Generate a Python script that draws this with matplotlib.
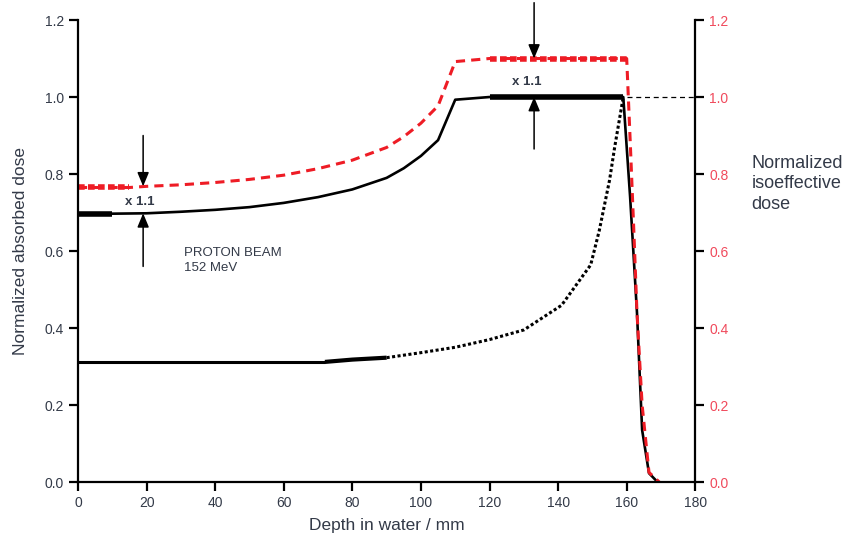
import matplotlib.pyplot as plt
import numpy as np

plt.rcParams['font.family'] = ['Liberation Sans', 'DejaVu Sans']

# spread-out Bragg peak, absorbed dose (black) and isoeffective dose (red)
sobp_depth = [0, 10, 20, 30, 40, 50, 60, 70, 80, 90, 95, 100, 105, 110,
              120, 130, 140, 150, 159, 161, 163, 164.5, 166.5, 169]
absorbed = [0.697, 0.697, 0.698, 0.702, 0.707, 0.714, 0.725, 0.74, 0.76,
            0.79, 0.815, 0.847, 0.888, 0.993, 1.0, 1.0, 1.0, 1.0, 1.0,
            0.74, 0.44, 0.135, 0.023, 0.0]

iso_depth = [0, 15, 20, 30, 40, 50, 60, 70, 80, 90, 95, 100, 105, 110,
             120, 130, 140, 150, 160, 161, 162, 163, 164.5, 166.5, 169.5]
isoeffective = [0.765, 0.765, 0.768, 0.772, 0.778, 0.786, 0.797, 0.814,
                0.836, 0.869, 0.897, 0.932, 0.977, 1.092, 1.1, 1.1, 1.1,
                1.1, 1.1, 0.89, 0.67, 0.44, 0.2, 0.025, 0.0]

# single pristine Bragg peak
bragg_depth = [0, 72, 80, 90, 100, 110, 120, 130, 141, 149.5, 152,
               155, 156.5, 159]
bragg_dose = [0.312, 0.312, 0.318, 0.323, 0.336, 0.35, 0.37, 0.395, 0.459,
              0.564, 0.653, 0.784, 0.87, 1.0]

rbe = "x 1.1"
ink = '#333a48'
red = '#ee1c25'

fig = plt.figure(figsize=(8.55, 5.41), dpi=100)
ax = fig.add_axes([0.0912, 0.109, 0.722, 0.854])

# entrance plateau is drawn heavier, as is the SOBP flat top
ax.plot(sobp_depth, absorbed, color='black', lw=1.9, solid_joinstyle='round')
ax.plot(sobp_depth[:2], absorbed[:2], color='black', lw=4, solid_capstyle='butt')
ax.plot(sobp_depth[14:19], absorbed[14:19], color='black', lw=4, solid_capstyle='butt')

ax.plot(iso_depth, isoeffective, color=red, lw=2.2, ls=(0, (3, 2)))
ax.plot(iso_depth[:2], isoeffective[:2], color=red, lw=4, ls=(0, (1.2, 0.6)))
ax.plot(iso_depth[14:19], isoeffective[14:19], color=red, lw=4, ls=(0, (1.2, 0.6)))

ax.plot(bragg_depth[:2], bragg_dose[:2], color='black', lw=2.2, solid_capstyle='butt')
ax.plot(bragg_depth[1:4], bragg_dose[1:4], color='black', lw=3, solid_capstyle='butt')
ax.plot(bragg_depth[3:], bragg_dose[3:], color='black', lw=2.2, ls=(0, (1, 0.8)))

ax.plot([160, 180], [1.0, 1.0], color='black', lw=0.9, ls=(0, (4, 3)), clip_on=False)

ax.set_xlim(0, 180)
ax.set_ylim(0, 1.2)
ax.set_xticks(np.arange(0, 181, 20))
ax.set_yticks(np.arange(0, 1.21, 0.2))
ax.set_yticklabels([f"{v:.1f}" for v in np.arange(0, 1.21, 0.2)])
ax.spines['top'].set_visible(False)
ax.spines['right'].set_visible(False)
for s in ('left', 'bottom'):
    ax.spines[s].set_linewidth(1.6)
ax.tick_params(width=1.6, length=6.5, labelsize=10, colors='black', labelcolor=ink)
ax.set_xlabel("Depth in water / mm", fontsize=12.5, color=ink, labelpad=6)
ax.set_ylabel("Normalized absorbed dose", fontsize=12.5, color=ink, labelpad=12)

ax2 = ax.twinx()
ax2.set_ylim(0, 1.2)
ax2.set_yticks(np.arange(0, 1.21, 0.2))
ax2.set_yticklabels([f"{v:.1f}" for v in np.arange(0, 1.21, 0.2)])
for s in ('top', 'left', 'bottom'):
    ax2.spines[s].set_visible(False)
ax2.spines['right'].set_linewidth(1.6)
ax2.tick_params(width=1.6, length=6.5, labelsize=10, labelcolor='#f04a5c')
fig.text(0.879, 0.66, "Normalized\nisoeffective\ndose", fontsize=13, color=ink,
         ha='left', va='center', linespacing=1.25)

# factor 1.1 arrows at the entrance and on the plateau
arrow = dict(arrowstyle='-|>,head_length=0.6,head_width=0.25', color='black',
             lw=1.1, mutation_scale=14, shrinkA=0, shrinkB=0)
ax.annotate("", xy=(19, 0.768), xytext=(19, 0.9), arrowprops=arrow)
ax.annotate("", xy=(19, 0.698), xytext=(19, 0.56), arrowprops=arrow)
ax.text(18, 0.727, rbe, fontsize=9.5, fontweight='bold', color=ink,
        ha='center', va='center')
ax.annotate("", xy=(133, 1.1), xytext=(133, 1.245), arrowprops=arrow,
            annotation_clip=False)
ax.annotate("", xy=(133, 1.0), xytext=(133, 0.865), arrowprops=arrow)
ax.text(131, 1.04, rbe, fontsize=9.5, fontweight='bold', color=ink,
        ha='center', va='center')

ax.text(31, 0.575, "PROTON BEAM\n152 MeV", fontsize=9.5, color=ink,
        ha='left', va='center', linespacing=1.3)

fig.savefig("out.png", dpi=100)
